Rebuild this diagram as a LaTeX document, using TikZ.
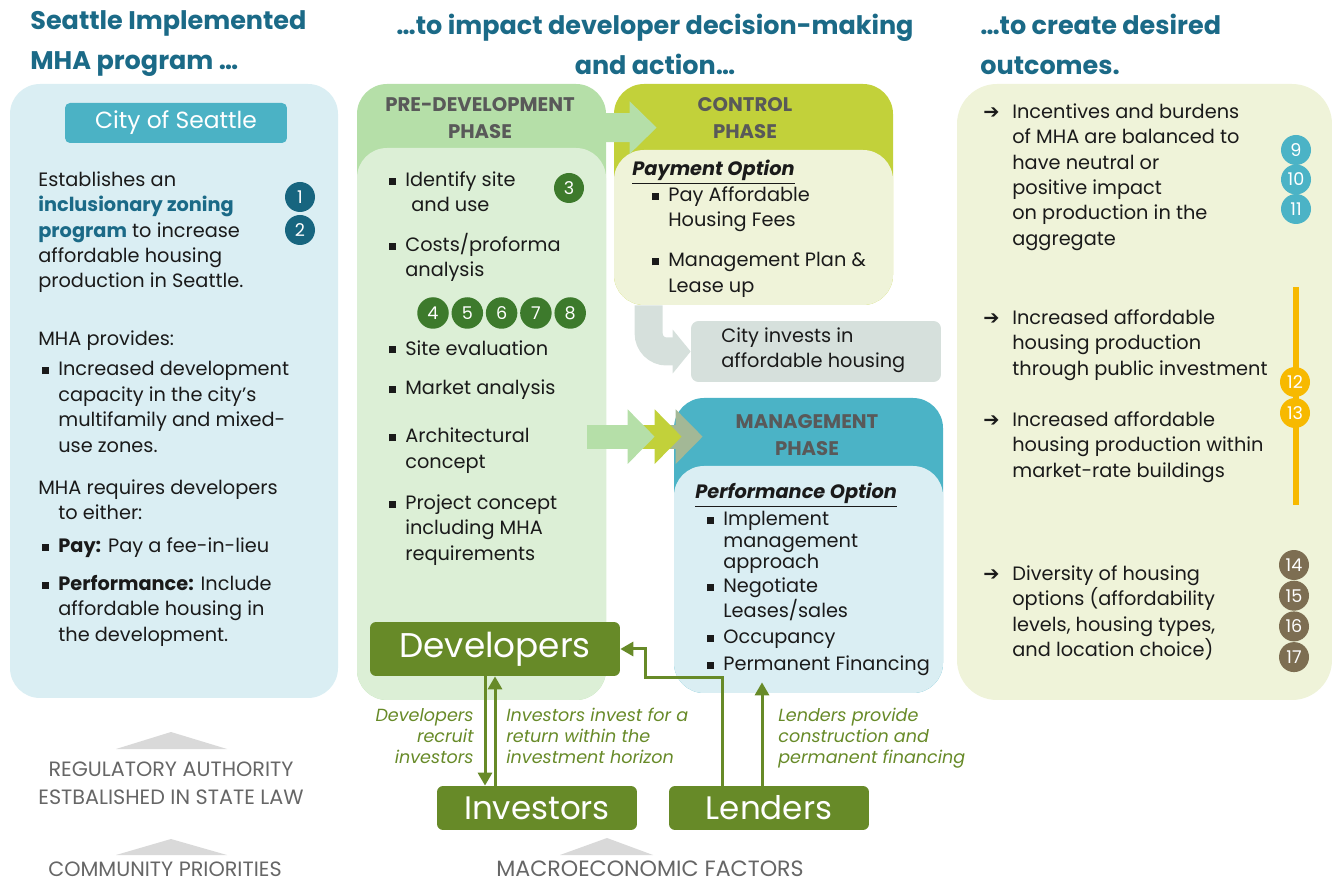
\documentclass[tikz,border=0pt]{standalone}
\usepackage{fontspec}
\setmainfont{Poppins}
\newfontfamily\symfont{DejaVu Sans}
\usetikzlibrary{positioning,fit,arrows.meta}

\definecolor{titleteal}{HTML}{1B6A87}
\definecolor{cityback}{HTML}{DAEEF3}
\definecolor{citybtn}{HTML}{4BB2C5}
\definecolor{darkteal}{HTML}{17657F}
\definecolor{pregreen}{HTML}{B5DFA8}
\definecolor{prebody}{HTML}{DCEFD6}
\definecolor{numgreen}{HTML}{3D7A2C}
\definecolor{ctrlgreen}{HTML}{C2D13A}
\definecolor{ctrlbody}{HTML}{EFF3D9}
\definecolor{investgray}{HTML}{D6E0DC}
\definecolor{mgmtteal}{HTML}{4BB3C6}
\definecolor{olive}{HTML}{678A28}
\definecolor{sagearrow}{HTML}{A3B896}
\definecolor{outcome}{HTML}{EFF3D9}
\definecolor{amber}{HTML}{F7B900}
\definecolor{taupe}{HTML}{7D6E52}
\definecolor{headgray}{HTML}{595959}
\definecolor{footgray}{HTML}{666666}
\definecolor{trigray}{HTML}{D9D9D9}
\definecolor{ink}{HTML}{1A1A1A}

\newcommand{\bul}{\makebox[0.4cm][l]{\hspace{0.08cm}\rule[0.15ex]{0.14cm}{0.14cm}}}
\newcommand{\ind}{\hspace{0.4cm}}
\newcommand{\outarr}{\makebox[0.58cm][l]{{\symfont\bfseries\fontsize{11}{11}\selectfont ➔}}}
\newcommand{\oind}{\hspace{0.58cm}}

\tikzstyle{panel} = [rounded corners=0.6cm, inner sep=0pt]
\tikzstyle{body} = [font=\fontsize{11}{14.5}\selectfont, text=ink, align=left,
    inner sep=0pt, anchor=north west]
\tikzstyle{title} = [font=\fontsize{14.5}{22.7}\selectfont\bfseries, text=titleteal, inner sep=0pt]
\tikzstyle{phasehead} = [font=\fontsize{11.2}{15.4}\selectfont\bfseries, text=headgray,
    align=center, inner sep=0pt]
\tikzstyle{numc} = [circle, inner sep=0pt, minimum size=0.6cm, text=white,
    font=\fontsize{10}{10}\selectfont]
\tikzstyle{citybox} = [fill=citybtn, text=white, rounded corners=0.1cm, minimum width=4.44cm,
    minimum height=0.8cm, font=\fontsize{13.3}{13.3}\selectfont]
\tikzstyle{actor} = [rectangle, fill=olive, text=white, rounded corners=0.12cm,
    font=\fontsize{18.5}{18.5}\selectfont]
\tikzstyle{flow} = [draw=olive, line width=0.06cm, -{Triangle[width=0.28cm,length=0.26cm]}]
\tikzstyle{lbl} = [font=\fontsize{10}{12}\selectfont\itshape, text=olive, inner sep=0pt]
\tikzstyle{foot} = [font=\fontsize{11.8}{16}\selectfont, text=footgray, align=center, inner sep=0pt]
\tikzstyle{blockarrow} = [line width=0.48cm, -{Triangle[width=1.06cm,length=0.54cm]}]

\begin{document}
\begin{tikzpicture}[x=0.02cm, y=-0.02cm]
    \useasboundingbox (0,0) rectangle (1332,884);

    % Titles
    \node[title, anchor=north west, align=left] (lefttitle) at (30,10) {Seattle Implemented\\MHA program …};
    \node[title, anchor=north, align=center] (midtitle) at (655,14) {…to impact developer decision-making\\and action…};
    \node[title, anchor=north west, align=left] (righttitle) at (980,14) {…to create desired\\outcomes.};

    % City panel
    \node[panel, fill=cityback, fit={(10,84) (338,698)}] (citypanel) {};
    \node[citybox] (city) at (176,123) {City of Seattle};
    \node[body] (establish) at (38,171) {Establishes an\\{\color{titleteal}\bfseries inclusionary zoning}\\{\color{titleteal}\bfseries program} to increase\\affordable housing\\production in Seattle.};
    \node[numc, fill=darkteal] (n1) at (300,197) {1};
    \node[numc, fill=darkteal] (n2) at (300,230) {2};
    \node[body] (provides) at (38,330) {MHA provides:};
    \node[body] (capacity) at (38,361) {\bul Increased development\\\ind capacity in the city’s\\\ind multifamily and mixed-\\\ind use zones.};
    \node[body] (requires) at (38,479) {MHA requires developers\\\ind to either:};
    \node[body] (pay) at (38,537) {\bul\textbf{Pay:} Pay a fee-in-lieu};
    \node[body] (perform) at (38,575) {\bul\textbf{Performance:} Include\\\ind affordable housing in\\\ind the development.};

    % Pre-development phase
    \node[panel, fill=pregreen, fit={(357,84) (606,700)}] (predev) {};
    \node[panel, fill=prebody, fit={(357,148) (606,700)}] (prebodybox) {};
    \node[phasehead] (prehead) at (480,118) {PRE-DEVELOPMENT\\PHASE};
    \node[body] (prelist) at (385,171) {\bul Identify site\\\ind\hspace{0.12cm}and use\\[8pt]\bul Costs/proforma\\\ind analysis};
    \node[numc, fill=numgreen] (n3) at (569,188) {3};
    \foreach \n in {4,...,8}
        \node[numc, fill=numgreen, minimum size=0.63cm] (n\n) at ({433+34.3*(\n-4)},313) {\n};
    \node[body] (prelist2) at (385,340) {\bul Site evaluation\\[8.2pt]\bul Market analysis\\[12.8pt]\bul Architectural\\\ind concept\\[8.8pt]\bul Project concept\\\ind including MHA\\\ind requirements};

    % Control phase
    \node[panel, fill=ctrlgreen, fit={(614,84) (893,305)}] (ctrl) {};
    \node[panel, fill=ctrlbody, fit={(614,150) (893,305)}] (ctrlbodybox) {};
    \node[phasehead] (ctrlhead) at (745,118) {CONTROL\\PHASE};
    \node[body] (payopt) at (632,160) {\textbf{\textit{\underline{Payment Option}}}};
    \node[body] (paylist) at (648,186) {\bul Pay Affordable\\\ind Housing Fees\\[8.5pt]\bul Management Plan \&\\\ind Lease up};
    \draw[blockarrow, pregreen, -{Triangle[width=1.02cm,length=0.54cm]}, line width=0.58cm]
        ([shift={(-16,44)}]predev.north east) -- ([shift={(43,44)}]ctrl.north west);

    % City investment
    \node[fill=investgray, rounded corners=0.15cm, minimum width=5cm, minimum height=1.22cm, inner sep=0pt] (invest) at (816,351.5) {};
    \node[body, anchor=west] (investtxt) at (721,350) {City invests in\\affordable housing};
    \draw[investgray, line width=0.56cm, rounded corners=0.36cm, -{Triangle[width=0.86cm,length=0.36cm]}]
        ([shift={(35,0)}]ctrl.south west) |- (invest.west);

    % Management phase
    \node[panel, fill=mgmtteal, fit={(674,398) (943,693)}] (mgmt) {};
    \node[panel, fill=cityback, fit={(674,466) (943,693)}] (mgmtbodybox) {};
    \node[phasehead] (mgmthead) at (807,435) {MANAGEMENT\\PHASE};
    \node[body] (perfopt) at (695,483) {\textbf{\textit{\underline{Performance Option}}}};
    \node[body, font=\fontsize{11}{12.2}\selectfont] (perflist) at (703,511) {\bul Implement\\\ind management\\\ind approach\\[1.5pt]\bul Negotiate\\\ind Leases/sales\\[2.6pt]\bul Occupancy\\[3.1pt]\bul Permanent Financing};
    \draw[blockarrow, sagearrow] ([shift={(-54,39)}]mgmt.north west) -- ([shift={(29,39)}]mgmt.north west);
    \draw[blockarrow, ctrlgreen] ([shift={(-69,39)}]mgmt.north west) -- ([shift={(8,39)}]mgmt.north west);
    \draw[blockarrow, pregreen] ([shift={(-87,39)}]mgmt.north west) -- ([shift={(-19,39)}]mgmt.north west);

    % Outcomes
    \node[panel, rounded corners=0.8cm, fill=outcome, fit={(957,84) (1332,700)}] (outcomes) {};
    \node[body] (out1) at (983,103) {\outarr Incentives and burdens\\\oind of MHA are balanced to\\\oind have neutral or\\\oind positive impact\\\oind on production in the\\\oind aggregate};
    \node[body] (out2) at (983,309) {\outarr Increased affordable\\\oind housing production\\\oind through public investment};
    \node[body] (out3) at (983,411) {\outarr Increased affordable\\\oind housing production within\\\oind market-rate buildings};
    \node[body] (out4) at (983,565) {\outarr Diversity of housing\\\oind options (affordability\\\oind levels, housing types,\\\oind and location choice)};
    \foreach \n in {9,10,11}
        \node[numc, fill=mgmtteal] (n\n) at (1296,{150+29.5*(\n-9)}) {\n};
    \draw[amber, line width=0.12cm] (1296,287) -- (1296,505);
    \node[numc, fill=amber] (n12) at (1295,382) {12};
    \node[numc, fill=amber] (n13) at (1295,413) {13};
    \foreach \n in {14,...,17}
        \node[numc, fill=taupe] (n\n) at (1294,{565+30.7*(\n-14)}) {\n};

    % Actors
    \node[actor, minimum width=5cm, minimum height=1.08cm, font=\fontsize{19.5}{19.5}\selectfont] (devs) at (495,649) {Developers};
    \node[actor, minimum width=4cm, minimum height=0.88cm] (invs) at (537,808) {Investors};
    \node[actor, minimum width=4cm, minimum height=0.88cm] (lends) at (769,808) {Lenders};

    \draw[flow] (485,0 |- devs.south) -- (485,0 |- invs.north);
    \draw[flow] (495,0 |- invs.north) -- (495,0 |- devs.south);
    \draw[flow] (722,0 |- lends.north) |- (645,678) |- (devs.east);
    \draw[flow, shorten >=-0.22cm] (762,0 |- lends.north) -- (762,0 |- mgmt.south);

    \node[lbl, anchor=north east, align=right] (recruitlbl) at (474,708) {Developers\\recruit\\investors};
    \node[lbl, anchor=north west, align=left] (investlbl) at (506,708) {Investors invest for a\\return within the\\investment horizon};
    \node[lbl, anchor=north west, align=left] (lendlbl) at (778,708) {Lenders provide\\construction and\\permanent financing};

    % Context
    \fill[trigray] (116,749) -- (171,732) -- (227,749) -- cycle;
    \node[foot] (regauth) at (171,783) {REGULATORY AUTHORITY\\ESTBALISHED IN STATE LAW};
    \fill[trigray] (116,855) -- (171,839) -- (227,855) -- cycle;
    \node[foot] (community) at (165,869) {COMMUNITY PRIORITIES};
    \fill[trigray] (560,855) -- (607,838) -- (653,855) -- cycle;
    \node[foot, font=\fontsize{12.6}{14}\selectfont] (macro) at (650,869) {MACROECONOMIC FACTORS};
\end{tikzpicture}
\end{document}
